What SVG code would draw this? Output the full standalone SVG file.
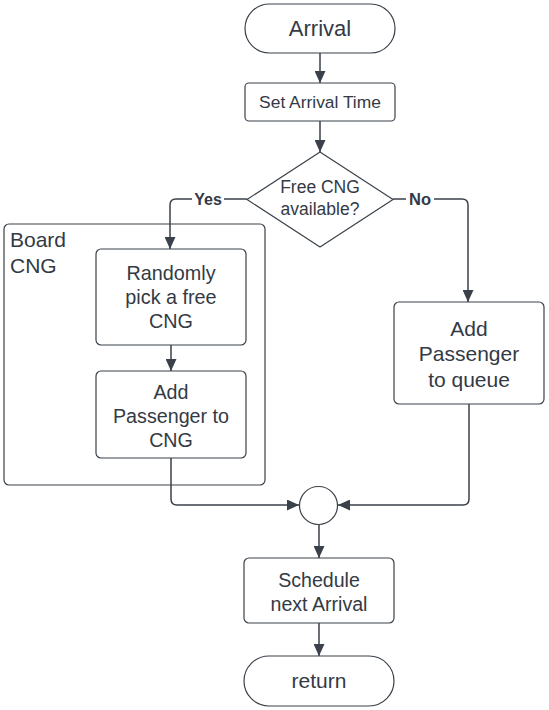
<svg xmlns="http://www.w3.org/2000/svg" width="549" height="710" viewBox="0 0 549 710">
<defs>
<marker id="ah" markerUnits="userSpaceOnUse" markerWidth="12" markerHeight="11" refX="12" refY="5.5" orient="auto">
<path d="M0,0 L12,5.5 L0,11 z" fill="#3a414a"/>
</marker>
<style>
.s{fill:#ffffff;stroke:#3a414a;stroke-width:1.2}
.c{fill:none;stroke:#3a414a;stroke-width:1.5}
.a{marker-end:url(#ah)}
text{font-family:"Liberation Sans",Arial,sans-serif;fill:#333a45;text-anchor:middle}
.b{font-weight:bold}
</style>
</defs>
<rect width="549" height="710" fill="#ffffff"/>
<g id="board-cng">
<rect class="s" x="4" y="224" width="261" height="261" rx="5"/>
<text x="10" y="247" font-size="21" style="text-anchor:start">Board</text>
<text x="10" y="273" font-size="21" style="text-anchor:start">CNG</text>
</g>
<g id="connectors">
<path class="c a" d="M320,53 V83"/>
<path class="c a" d="M320,121 V152"/>
<path class="c a" d="M247,199 H176 Q170,199 170,205 V249"/>
<path class="c a" d="M393,199 H462 Q468,199 468,205 V302"/>
<path class="c a" d="M171,345 V371"/>
<path class="c a" d="M171,458 V499 Q171,505 177,505 H299"/>
<path class="c a" d="M469,404 V499 Q469,505 463,505 H338"/>
<path class="c a" d="M319,525 V558"/>
<path class="c a" d="M319,623 V656"/>
<rect x="192" y="190" width="32" height="18" fill="#ffffff"/>
<text class="b" x="208" y="205" font-size="16">Yes</text>
<rect x="406" y="190" width="28" height="18" fill="#ffffff"/>
<text class="b" x="420" y="205" font-size="16.5">No</text>
</g>
<g id="arrival">
<rect class="s" x="245" y="4" width="150" height="49" rx="24.5"/>
<text x="320" y="36" font-size="22">Arrival</text>
</g>
<g id="set-arrival-time">
<rect class="s" x="245" y="83" width="150" height="38" rx="4"/>
<text x="320" y="108" font-size="17.4">Set Arrival Time</text>
</g>
<g id="free-cng">
<path class="s" d="M320,152 L393,199.5 L320,247 L247,199.5 Z" stroke-linejoin="round"/>
<text x="320" y="193" font-size="17.5">Free CNG</text>
<text x="320" y="215" font-size="17.5">available?</text>
</g>
<g id="randomly-pick">
<rect class="s" x="96" y="249" width="150" height="96" rx="5"/>
<text x="171" y="280" font-size="19.8">Randomly</text>
<text x="171" y="304" font-size="19.8">pick a free</text>
<text x="171" y="328" font-size="19.8">CNG</text>
</g>
<g id="add-to-cng">
<rect class="s" x="96" y="371" width="150" height="87" rx="5"/>
<text x="171" y="399" font-size="19.7">Add</text>
<text x="171" y="423" font-size="19.7">Passenger to</text>
<text x="171" y="447" font-size="19.7">CNG</text>
</g>
<g id="add-to-queue">
<rect class="s" x="394" y="302" width="150" height="102" rx="5"/>
<text x="469" y="336" font-size="21">Add</text>
<text x="469" y="361" font-size="21">Passenger</text>
<text x="469" y="387" font-size="21">to queue</text>
</g>
<g id="merge">
<circle class="s" cx="318.5" cy="505.5" r="19"/>
</g>
<g id="schedule">
<rect class="s" x="244" y="558" width="150" height="65" rx="5"/>
<text x="319" y="587" font-size="19.6">Schedule</text>
<text x="319" y="611" font-size="19.6">next Arrival</text>
</g>
<g id="return">
<rect class="s" x="244" y="656" width="150" height="50" rx="25"/>
<text x="319" y="688" font-size="21">return</text>
</g>
</svg>
